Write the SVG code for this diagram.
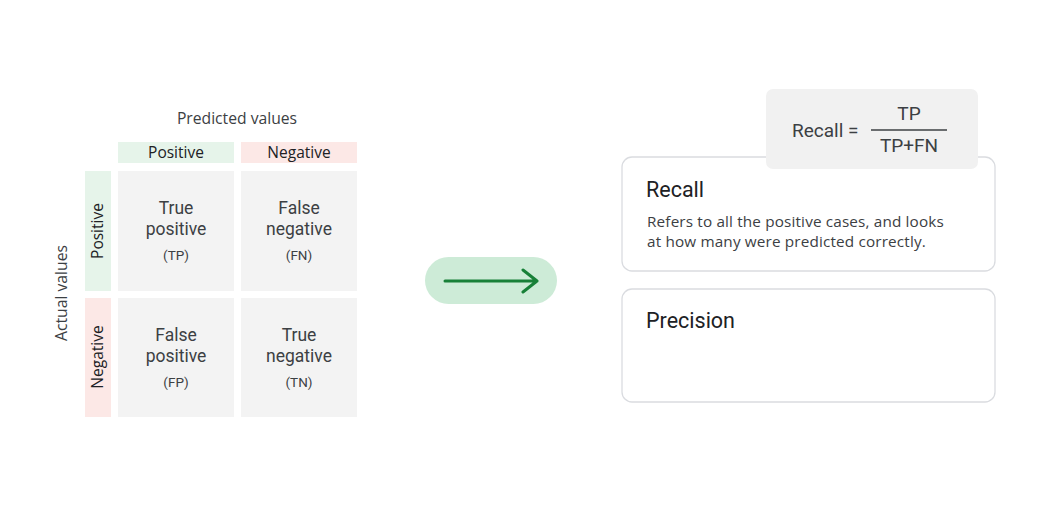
<svg xmlns="http://www.w3.org/2000/svg" width="1043" height="528" viewBox="0 0 1043 528">
<style>
  text { font-family: Roboto, "Liberation Sans", Arial, sans-serif; fill: #3c4043; }
  .axis { font-family: "Open Sans", Roboto, sans-serif; font-size: 15.7px; }
  .hdr { font-family: "Open Sans", Roboto, sans-serif; font-size: 15.5px; fill: #202124; }
  .cell { fill: #f3f3f3; }
  .big { font-size: 17.5px; text-anchor: middle; }
  .small { font-size: 13.5px; text-anchor: middle; }
  .card { fill: #ffffff; stroke: #dadce0; stroke-width: 1.3; }
  .title { font-size: 21.5px; fill: #202124; }
  .desc { font-family: "Open Sans", Roboto, sans-serif; font-size: 15.3px; fill: #3c4043; letter-spacing: 0.15px; }
  .green { fill: #e6f4ea; }
  .pink { fill: #fce8e6; }
  .frm { font-size: 19px; }
</style>
<rect width="1043" height="528" fill="#ffffff"/>

<g id="matrix">
  <text class="axis" x="237" y="124" text-anchor="middle">Predicted values</text>
  <text class="axis" transform="translate(67,293) rotate(-90)" text-anchor="middle">Actual values</text>

  <g id="pred-positive">
    <rect class="green" x="118" y="142" width="116" height="21"/>
    <text class="hdr" x="176" y="158" text-anchor="middle">Positive</text>
  </g>
  <g id="pred-negative">
    <rect class="pink" x="241" y="142" width="116" height="21"/>
    <text class="hdr" x="299" y="158" text-anchor="middle">Negative</text>
  </g>
  <g id="act-positive">
    <rect class="green" x="85" y="171" width="26" height="120"/>
    <text class="hdr" transform="translate(103,231) rotate(-90)" text-anchor="middle">Positive</text>
  </g>
  <g id="act-negative">
    <rect class="pink" x="85" y="298" width="26" height="119"/>
    <text class="hdr" transform="translate(103,357) rotate(-90)" text-anchor="middle">Negative</text>
  </g>

  <g id="tp">
    <rect class="cell" x="118" y="171" width="116" height="120"/>
    <text class="big" x="176" y="214">True</text>
    <text class="big" x="176" y="235">positive</text>
    <text class="small" x="176" y="260">(TP)</text>
  </g>
  <g id="fn">
    <rect class="cell" x="241" y="171" width="116" height="120"/>
    <text class="big" x="299" y="214">False</text>
    <text class="big" x="299" y="235">negative</text>
    <text class="small" x="299" y="260">(FN)</text>
  </g>
  <g id="fp">
    <rect class="cell" x="118" y="298" width="116" height="119"/>
    <text class="big" x="176" y="341">False</text>
    <text class="big" x="176" y="362">positive</text>
    <text class="small" x="176" y="387">(FP)</text>
  </g>
  <g id="tn">
    <rect class="cell" x="241" y="298" width="116" height="119"/>
    <text class="big" x="299" y="341">True</text>
    <text class="big" x="299" y="362">negative</text>
    <text class="small" x="299" y="387">(TN)</text>
  </g>
</g>

<g id="connectors">
  <rect x="425" y="257" width="132" height="47" rx="23.5" fill="#cdebd7"/>
  <path d="M445 281 H537 M523 270 L537 281 L523 292" fill="none" stroke="#188038" stroke-width="3" stroke-linecap="round" stroke-linejoin="round"/>
</g>

<g id="recall-card">
  <rect class="card" x="622" y="157" width="373" height="114" rx="10"/>
  <text class="title" x="646" y="197">Recall</text>
  <text class="desc" x="647" y="227">Refers to all the positive cases, and looks</text>
  <text class="desc" x="647" y="247">at how many were predicted correctly.</text>
</g>

<g id="precision-card">
  <rect class="card" x="622" y="289" width="373" height="113" rx="10"/>
  <text class="title" x="646" y="328">Precision</text>
</g>

<g id="formula">
  <rect x="766" y="89" width="212" height="80" rx="7" fill="#f1f1f1"/>
  <text class="frm" x="792" y="137">Recall =</text>
  <text class="frm" x="909" y="120" text-anchor="middle">TP</text>
  <line x1="871" y1="130" x2="947" y2="130" stroke="#3c4043" stroke-width="1.3"/>
  <text class="frm" x="909" y="152" text-anchor="middle">TP+FN</text>
</g>
</svg>
